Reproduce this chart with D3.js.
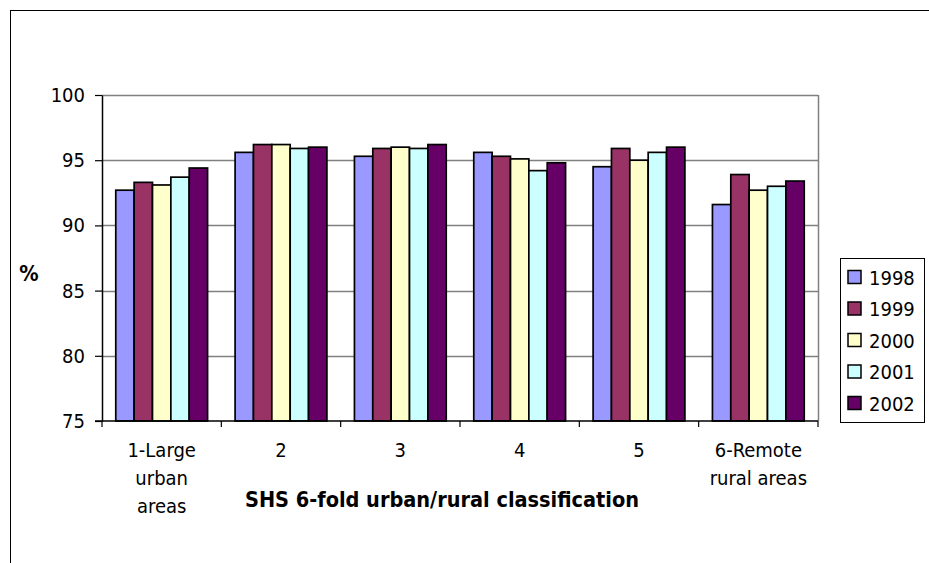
<!DOCTYPE html>
<html>
<head>
<meta charset="utf-8">
<script src="https://cdn.jsdelivr.net/npm/d3@7"></script>
<style>
  html, body { margin: 0; padding: 0; background: #fff; }
  svg text { font-family: "DejaVu Sans Condensed", "DejaVu Sans", sans-serif; fill: #000; }
</style>
</head>
<body>
<svg id="chart" width="929" height="563"></svg>
<script>
// Categories of the SHS 6-fold urban/rural classification
const categories = [
  ["1-Large", "urban", "areas"],
  ["2"],
  ["3"],
  ["4"],
  ["5"],
  ["6-Remote", "rural areas"]
];
const categoryKeys = ["1", "2", "3", "4", "5", "6"];

const years = ["1998", "1999", "2000", "2001", "2002"];
const yearColors = ["#9999FF", "#993366", "#FFFFCC", "#CCFFFF", "#660066"];

// Percentages per year, one value per category
const values1998 = [92.7, 95.6, 95.3, 95.6, 94.5, 91.6];
const values1999 = [93.3, 96.2, 95.9, 95.3, 95.9, 93.9];
const values2000 = [93.1, 96.2, 96.0, 95.1, 95.0, 92.7];
const values2001 = [93.7, 95.9, 95.9, 94.2, 95.6, 93.0];
const values2002 = [94.4, 96.0, 96.2, 94.8, 96.0, 93.4];
const seriesValues = [values1998, values1999, values2000, values2001, values2002];

const yTicks = [75, 80, 85, 90, 95, 100];

const svg = d3.select("#chart");

// Outer chart frame
svg.append("rect")
  .attr("x", 10.5).attr("y", 10.5)
  .attr("width", 940).attr("height", 600)
  .attr("fill", "none").attr("stroke", "#000").attr("stroke-width", 1);

const plot = { left: 102, right: 818, top: 95, bottom: 421 };

const x0 = d3.scaleBand()
  .domain(categoryKeys)
  .range([plot.left, plot.right])
  .paddingInner(0).paddingOuter(0);

// Bars take 5 units, the gap 1.5 bar widths split on both sides
const groupInset = x0.bandwidth() * (1.5 / 6.5) / 2;
const x1 = d3.scaleBand()
  .domain(years)
  .range([groupInset, x0.bandwidth() - groupInset]);

const y = d3.scaleLinear().domain([75, 100]).range([plot.bottom, plot.top]);

// Gridlines
svg.append("g")
  .selectAll("line")
  .data(yTicks.filter(t => t > 75))
  .join("line")
  .attr("x1", plot.left).attr("x2", plot.right)
  .attr("y1", d => Math.round(y(d)) + 0.5).attr("y2", d => Math.round(y(d)) + 0.5)
  .attr("stroke", "#808080").attr("stroke-width", 1.5);

// Right edge of the plot area
svg.append("line")
  .attr("x1", plot.right + 0.5).attr("x2", plot.right + 0.5)
  .attr("y1", plot.top).attr("y2", plot.bottom)
  .attr("stroke", "#808080").attr("stroke-width", 1.5);

// Bars
const groups = svg.append("g")
  .selectAll("g")
  .data(categoryKeys)
  .join("g")
  .attr("transform", d => `translate(${x0(d)},0)`);

groups.selectAll("rect")
  .data((d, i) => years.map((yr, j) => ({ year: yr, color: yearColors[j], value: seriesValues[j][i] })))
  .join("rect")
  .attr("x", d => x1(d.year))
  .attr("width", x1.bandwidth())
  .attr("y", d => y(d.value))
  .attr("height", d => y(75) - y(d.value))
  .attr("fill", d => d.color)
  .attr("stroke", "#000")
  .attr("stroke-width", 1.7);

// Y axis
const yAxis = svg.append("g")
  .attr("transform", `translate(${plot.left},0)`)
  .call(d3.axisLeft(y).tickValues(yTicks).tickSize(7).tickPadding(10).tickSizeOuter(0));
yAxis.select(".domain").attr("stroke", "#000").attr("stroke-width", 1.5);
yAxis.selectAll(".tick line").attr("stroke", "#000").attr("stroke-width", 1.2);
yAxis.selectAll("text").style("font-size", "20px").attr("fill", "#000");

// X axis: ticks on category boundaries
const xAxis = svg.append("g").attr("transform", `translate(0,${plot.bottom})`);
xAxis.append("line")
  .attr("x1", plot.left - 7).attr("x2", plot.right)
  .attr("y1", 0).attr("y2", 0)
  .attr("stroke", "#000").attr("stroke-width", 1.5);
const boundaries = categoryKeys.map(k => x0(k)).concat([plot.right]);
xAxis.selectAll("line.tick")
  .data(boundaries)
  .join("line")
  .attr("class", "tick")
  .attr("x1", d => d).attr("x2", d => d)
  .attr("y1", 0).attr("y2", 6)
  .attr("stroke", "#000").attr("stroke-width", 1.2);

// Category labels
const catLabels = xAxis.selectAll("text.cat")
  .data(categoryKeys)
  .join("text")
  .attr("class", "cat")
  .attr("text-anchor", "middle")
  .attr("x", d => x0(d) + x0.bandwidth() / 2)
  .attr("y", 36)
  .style("font-size", "20px");
catLabels.selectAll("tspan")
  .data((d, i) => categories[i])
  .join("tspan")
  .attr("x", function () { return d3.select(this.parentNode).attr("x"); })
  .attr("dy", (d, i) => i === 0 ? 0 : 28)
  .text(d => d);

// Axis titles
svg.append("text")
  .attr("x", 442).attr("y", 507)
  .attr("text-anchor", "middle")
  .style("font-size", "21.5px").style("font-weight", "bold")
  .text("SHS 6-fold urban/rural classification");

svg.append("text")
  .attr("x", 29).attr("y", 281)
  .attr("text-anchor", "middle")
  .style("font-size", "21.5px").style("font-weight", "bold")
  .text("%");

// Legend
const legend = svg.append("g");
legend.append("rect")
  .attr("x", 840.5).attr("y", 258.5)
  .attr("width", 84).attr("height", 164)
  .attr("fill", "#fff").attr("stroke", "#000").attr("stroke-width", 1);

const items = legend.selectAll("g.item")
  .data(years)
  .join("g")
  .attr("class", "item")
  .attr("transform", (d, i) => `translate(848,${277 + i * 31.5})`);
items.append("rect")
  .attr("x", 0).attr("y", -6.5)
  .attr("width", 13).attr("height", 13)
  .attr("fill", (d, i) => yearColors[i])
  .attr("stroke", "#000").attr("stroke-width", 1.5);
items.append("text")
  .attr("x", 21).attr("y", 7.5)
  .style("font-size", "20px")
  .text(d => d);
</script>
</body>
</html>
